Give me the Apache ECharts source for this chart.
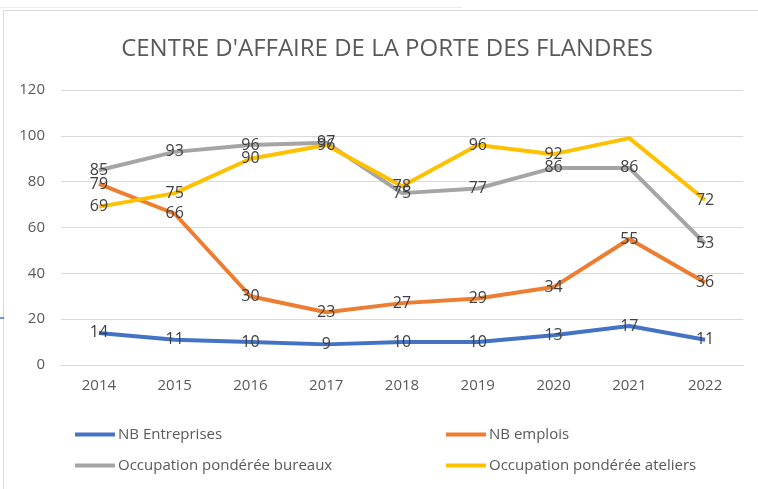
<!DOCTYPE html>
<html>
<head>
<meta charset="utf-8">
<script src="https://cdn.jsdelivr.net/npm/echarts@6/dist/echarts.min.js"></script>
<style>
  html, body { margin: 0; padding: 0; background: #fff; }
  #chart { width: 758px; height: 489px; }
</style>
</head>
<body>
<div id="chart"></div>
<script>
// données du graphique
const years = ['2014', '2015', '2016', '2017', '2018', '2019', '2020', '2021', '2022']
const nbEntreprises = [14, 11, 10, 9, 10, 10, 13, 17, 11]
const nbEmplois = [79, 66, 30, 23, 27, 29, 34, 55, 36]
const occBureaux = [85, 93, 96, 97, 75, 77, 86, 86, 53]
const occAteliers = [69, 75, 90, 96, 78, 96, 92, 99, 72]
const yTicks = [0, 20, 40, 60, 80, 100, 120]

const font = 'Open Sans'
const myChart = echarts.init(document.getElementById('chart'))

function makeSeries (name, data, color, hideIdx) {
  return {
    name: name,
    type: 'line',
    data: data.map((v, i) => ({
      value: v,
      label: { show: hideIdx !== i }
    })),
    showSymbol: true,
    symbol: 'circle',
    symbolSize: 0.01,
    lineStyle: { width: 4, color: color },
    itemStyle: { color: color },
    label: {
      show: true,
      position: 'inside',
      color: '#404040',
      fontSize: 16,
      fontFamily: font
    },
    labelLayout: { hideOverlap: false },
    z: 3
  }
}

const legendText = { color: '#595959', fontSize: 15, fontFamily: font, padding: [0, 0, 0, -2] }

const option = {
  animation: false,
  backgroundColor: '#fff',
  title: {
    text: "CENTRE D'AFFAIRE DE LA PORTE DES FLANDRES",
    left: 382,
    top: 32,
    textAlign: 'center',
    textStyle: { color: '#595959', fontSize: 24, fontWeight: 'normal', fontFamily: font }
  },
  graphic: [{
    type: 'rect',
    shape: { x: 3.5, y: 10.5, width: 800, height: 600 },
    style: { fill: 'none', stroke: '#d9d9d9', lineWidth: 1 },
    silent: true
  }, {
    type: 'line',
    shape: { x1: 0, y1: 7.5, x2: 462, y2: 7.5 },
    style: { stroke: '#ededed', lineWidth: 1 },
    silent: true
  }, {
    type: 'line',
    shape: { x1: 0, y1: 318, x2: 4, y2: 318 },
    style: { stroke: '#4472C4', lineWidth: 1.5 },
    silent: true
  }],
  grid: { left: 61, top: 90, width: 682, height: 275, containLabel: false },
  legend: [{
    left: 70, top: 422, orient: 'vertical', itemGap: 16,
    itemWidth: 40, itemHeight: 4, icon: 'rect',
    textStyle: legendText,
    data: ['NB Entreprises', 'Occupation pondérée bureaux']
  }, {
    left: 441, top: 422, orient: 'vertical', itemGap: 16,
    itemWidth: 40, itemHeight: 4, icon: 'rect',
    textStyle: legendText,
    data: ['NB emplois', 'Occupation pondérée ateliers']
  }],
  xAxis: {
    type: 'category',
    boundaryGap: true,
    data: years,
    axisLine: { lineStyle: { color: '#d9d9d9' } },
    axisTick: { show: false },
    axisLabel: { color: '#595959', fontSize: 15, fontFamily: font, margin: 13 }
  },
  yAxis: {
    type: 'value',
    min: yTicks[0],
    max: yTicks[yTicks.length - 1],
    interval: 20,
    axisLine: { show: false },
    axisTick: { show: false },
    splitLine: { lineStyle: { color: '#d9d9d9', width: 1 } },
    axisLabel: { color: '#595959', fontSize: 15, fontFamily: font, margin: 16 }
  },
  series: [
    makeSeries('NB Entreprises', nbEntreprises, '#4472C4'),
    makeSeries('NB emplois', nbEmplois, '#ED7D31'),
    makeSeries('Occupation pondérée bureaux', occBureaux, '#A5A5A5'),
    makeSeries('Occupation pondérée ateliers', occAteliers, '#FFC000', 7)
  ]
}

myChart.setOption(option, true)
window.onresize = function () {
  myChart.resize()
}
</script>
</body>
</html>
